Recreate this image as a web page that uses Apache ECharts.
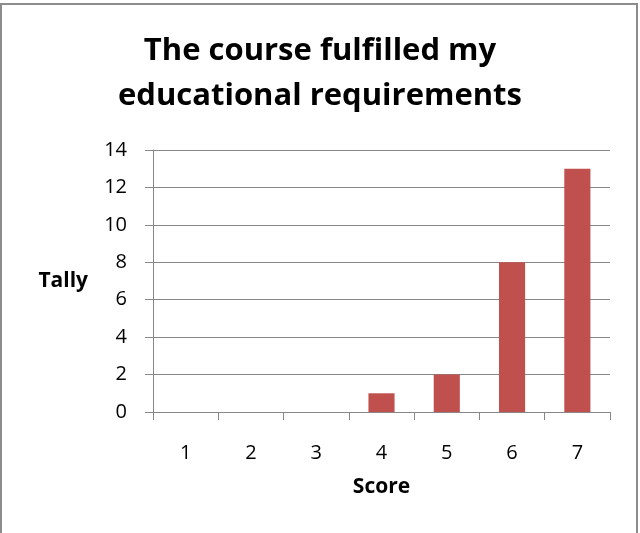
<!DOCTYPE html>
<html>
<head>
<meta charset="utf-8">
<script src="https://cdn.jsdelivr.net/npm/echarts@6/dist/echarts.min.js"></script>
<style>
  html, body { margin: 0; padding: 0; background: #fff; }
  #chart { width: 640px; height: 533px; }
</style>
</head>
<body>
<div id="chart"></div>
<script>
// scores and how many people gave each one
var scores = ['1', '2', '3', '4', '5', '6', '7'];
var tally = [0, 0, 0, 1, 2, 8, 13];
var yTicks = { min: 0, max: 14, step: 2 };

(function () {
    var dom = document.getElementById('chart');
    var chart = echarts.init(dom);
    var font = '"Open Sans", "Liberation Sans", sans-serif';
    var axisGrey = '#878787';

    chart.setOption({
        animation: false,
        textStyle: { fontFamily: font },
        title: {
            text: 'The course fulfilled my\neducational requirements',
            left: 'center',
            top: 24,
            textStyle: {
                fontSize: 31,
                fontWeight: 'bold',
                color: '#000',
                lineHeight: 45,
                fontFamily: font
            }
        },
        // outer chart border like the spreadsheet frame
        graphic: [{
            type: 'rect',
            shape: { x: 1, y: 4, width: 636, height: 560 },
            style: { fill: 'none', stroke: '#8c8c8c', lineWidth: 2 },
            silent: true
        }],
        grid: { left: 153, right: 30, top: 150, bottom: 121 },
        xAxis: {
            type: 'category',
            data: scores,
            name: 'Score',
            nameLocation: 'middle',
            nameGap: 65,
            nameTextStyle: { fontSize: 21, fontWeight: 'bold', color: '#000' },
            axisLine: { lineStyle: { color: axisGrey, width: 1 } },
            axisTick: { show: true, length: 8, lineStyle: { color: axisGrey } },
            axisLabel: { fontSize: 20, color: '#000', margin: 31 }
        },
        yAxis: {
            type: 'value',
            min: yTicks.min,
            max: yTicks.max,
            interval: yTicks.step,
            name: 'Tally',
            nameLocation: 'middle',
            nameRotate: 0,
            nameGap: 65,
            nameTextStyle: { fontSize: 21, fontWeight: 'bold', color: '#000', align: 'right' },
            axisLine: { show: true, lineStyle: { color: axisGrey, width: 1 } },
            axisTick: { show: true, length: 8, lineStyle: { color: axisGrey } },
            axisLabel: { fontSize: 20, color: '#000', margin: 26 },
            splitLine: { show: true, lineStyle: { color: axisGrey, width: 1 } }
        },
        series: [{
            type: 'bar',
            data: tally,
            barWidth: '40%',
            itemStyle: { color: '#C0504D' }
        }]
    });
})();
</script>
</body>
</html>
